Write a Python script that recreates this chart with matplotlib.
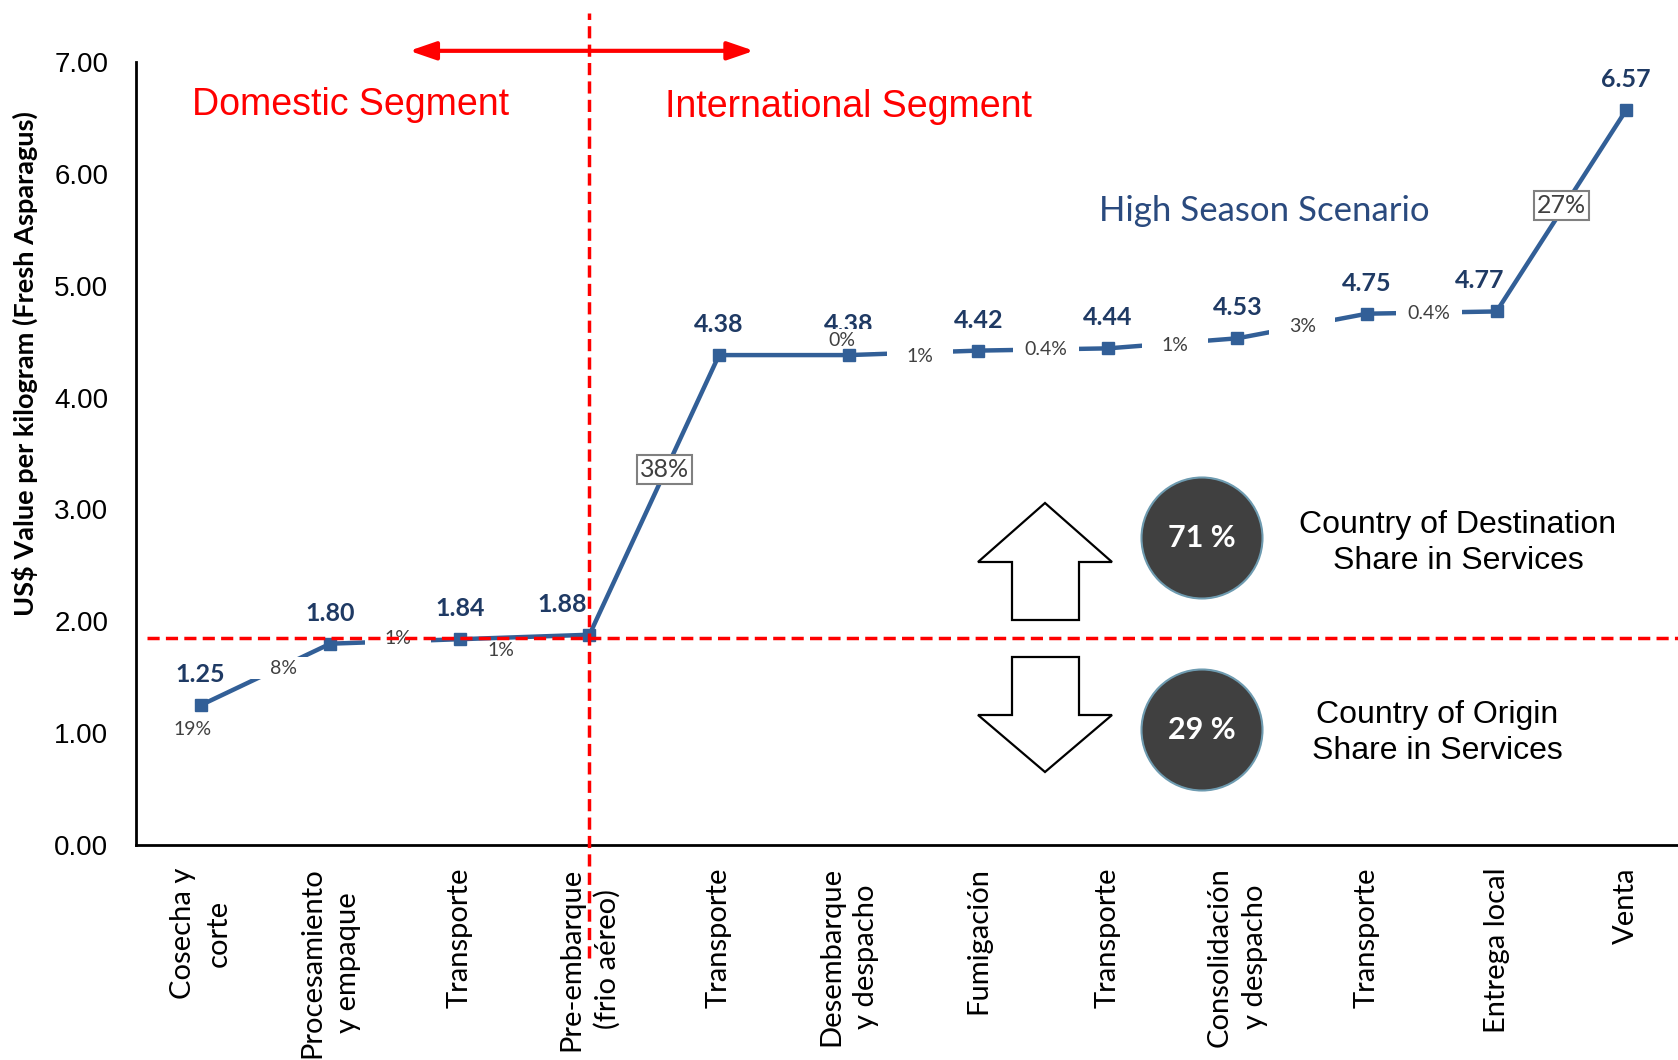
import numpy as np
import matplotlib
matplotlib.use("Agg")
import matplotlib.pyplot as plt
from matplotlib.patches import Circle, Polygon, Rectangle

# value chain stages and cumulative value (US$/kg)
stages = ["Cosecha y\ncorte", "Procesamiento\ny empaque", "Transporte",
          "Pre-embarque\n(frio aéreo)", "Transporte", "Desembarque\ny despacho",
          "Fumigación", "Transporte", "Consolidación\ny despacho", "Transporte",
          "Entrega local", "Venta"]
values = [1.25, 1.80, 1.84, 1.88, 4.38, 4.38, 4.42, 4.44, 4.53, 4.75, 4.77, 6.57]

# share of each step in the total value
shares = ["19%", "8%", "1%", "1%", "38%", "0%", "1%", "0.4%", "1%", "3%", "0.4%", "27%"]

dest_share = "71 %"
origin_share = "29 %"

LINE = "#325F97"
NAVY = "#1F3A64"
GREY = "#404040"
RED = "#FF0000"

fig = plt.figure(figsize=(16.78, 10.6), dpi=100)
ax = fig.add_axes([0.081, 0.2028, 0.9267, 0.7387])

x = np.arange(len(values))
ax.plot(x, values, color=LINE, lw=3.2, zorder=2, solid_capstyle="butt")
ax.plot(x, values, ls="none", marker="s", ms=9, color=LINE, zorder=4)

ax.set_xlim(-0.5, len(values) - 0.5)
ax.set_ylim(0, 7)
ax.set_yticks(np.arange(0, 8))
ax.set_yticklabels([f"{v:.2f}" for v in range(8)], fontsize=20, family="Liberation Sans")
ax.set_xticks(x)
ax.set_xticklabels(stages, rotation=90, fontsize=21, family="Lato",
                   va="top", ha="center", multialignment="center", linespacing=1.45)
ax.tick_params(axis="both", length=0)
ax.tick_params(axis="y", pad=20)
ax.tick_params(axis="x", pad=16)
for s in ["top", "right"]:
    ax.spines[s].set_visible(False)
for s in ["left", "bottom"]:
    ax.spines[s].set_linewidth(2)
ax.set_ylabel("US$ Value per kilogram (Fresh Asparagus)", fontsize=19.5,
              family="Lato", fontweight="bold", va="center")
ax.yaxis.set_label_coords(-0.0716, 0.615)

# value labels above the markers (two are nudged left)
nudge = {3: -20, 10: -12}
for i, v in enumerate(values):
    ax.annotate(f"{v:.2f}", (i, v), xytext=(nudge.get(i, 0), 22),
                textcoords="offset points", ha="center", va="center",
                fontsize=18, family="Lato", fontweight="bold", color=NAVY,
                zorder=2.5)

# share labels: (x, y, white box behind)
share_pos = [(-0.06, 1.03, False), (0.64, 1.58, True), (1.52, 1.85, True),
             (2.32, 1.74, False), (3.58, 3.36, None), (4.95, 4.51, True),
             (5.55, 4.37, True), (6.52, 4.43, True), (7.52, 4.47, True),
             (8.5, 4.64, True), (9.48, 4.75, True), (10.5, 5.72, None)]
for lab, (px, py, boxed) in zip(shares, share_pos):
    if boxed is None:
        ax.text(px, py, lab, ha="center", va="center", fontsize=18, family="Lato",
                color=GREY, zorder=5,
                bbox=dict(boxstyle="square,pad=0.12", fc="white", ec="#808080", lw=1.5))
        continue
    if boxed:
        ax.add_patch(Rectangle((px - 0.255, py - 0.1), 0.51, 0.2, fc="white",
                               ec="none", zorder=3))
    ax.text(px, py, lab, ha="center", va="center", fontsize=14, family="Lato",
            color=GREY, zorder=5)

# segment split lines
ax.axhline(1.85, xmin=0.007, xmax=1, color=RED, lw=2.5, dashes=(3.5, 1.8), zorder=6)
ax.axvline(3, ymin=-0.144, ymax=1.063, color=RED, lw=2.5, dashes=(3.5, 1.8),
           zorder=6, clip_on=False)
ax.annotate("", xy=(1.61, 7.1), xytext=(4.27, 7.1), annotation_clip=False,
            arrowprops=dict(arrowstyle="<|-|>,head_length=1.6,head_width=0.55",
                            color=RED, lw=3, shrinkA=0, shrinkB=0))

ax.text(1.16, 6.62, "Domestic Segment", color=RED, fontsize=27,
        family="Liberation Sans", ha="center", va="center")
ax.text(5.0, 6.6, "International Segment", color=RED, fontsize=27,
        family="Liberation Sans", ha="center", va="center")
ax.text(8.21, 5.67, "High Season Scenario", color="#2A4A7E", fontsize=25,
        family="Lato", ha="center", va="center")

# block arrows and share circles (figure inches)
tr = fig.dpi_scale_trans
H = 10.6
up = [(10.45, 5.57), (11.12, 4.98), (10.79, 4.98), (10.79, 4.40),
      (10.12, 4.40), (10.12, 4.98), (9.78, 4.98)]
down = [(10.12, 4.03), (10.79, 4.03), (10.79, 3.45), (11.12, 3.45),
        (10.45, 2.88), (9.78, 3.45), (10.12, 3.45)]
for pts in (up, down):
    fig.patches.append(Polygon(pts, closed=True, fc="white", ec="black", lw=1.6,
                               transform=tr))

for cy, lab in ((H - 5.38, dest_share), (H - 7.30, origin_share)):
    fig.patches.append(Circle((12.02, cy), 0.605, fc="#404040", ec="#6E9BB0",
                              lw=1.5, transform=tr))
    fig.text(12.02 / 16.78, cy / H, lab, ha="center", va="center", color="white",
             fontsize=22, family="Lato", fontweight="bold")

fig.text(14.58 / 16.78, (H - 5.43) / H, "Country of Destination\nShare in Services",
         ha="center", va="center", fontsize=23, family="Liberation Sans",
         linespacing=1.25)
fig.text(14.37 / 16.78, (H - 7.33) / H, "Country of Origin\nShare in Services",
         ha="center", va="center", fontsize=23, family="Liberation Sans",
         linespacing=1.25)

fig.savefig("out.png", dpi=100)
